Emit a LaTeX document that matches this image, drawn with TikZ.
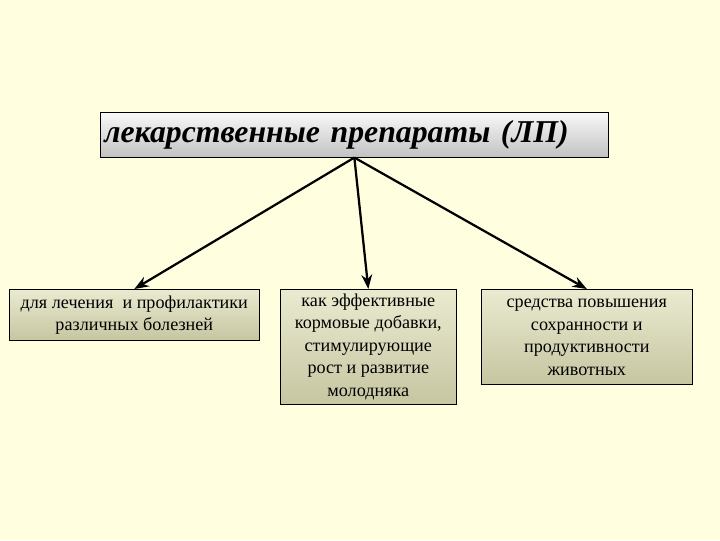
\documentclass[tikz,border=0pt]{standalone}
\usepackage{fontspec}
\setmainfont{Liberation Serif}
\usepackage{tikz}
\usetikzlibrary{arrows.meta, positioning}
\definecolor{paper}{RGB}{255,255,224}
\definecolor{khakitop}{RGB}{234,234,208}
\definecolor{khakibot}{RGB}{198,198,162}
\tikzstyle{titlebox} = [rectangle, draw=black, top color=gray!5, bottom color=gray!48, minimum width=12.7cm, minimum height=1.125cm, text width=12.5cm, align=left, inner sep=2pt, font=\fontsize{22.6}{26}\selectfont\bfseries\itshape]
\tikzstyle{itembox} = [rectangle, draw=black, top color=khakitop, bottom color=khakibot, align=center, inner xsep=2pt, inner ysep=0pt, font=\fontsize{12.9}{16}\selectfont]
\tikzstyle{arrow} = [line width=1.6pt, ->, >=Stealth]
\begin{document}
\begin{tikzpicture}[x=0.025cm, y=-0.025cm]

% Background
\fill [paper] (0,0) rectangle (720,540);

% Nodes
\node (drugs) [titlebox, anchor=north west] at (100,112) {лекарственные препараты (ЛП)};
\node (treat) [itembox, anchor=north west, minimum width=6.25cm, minimum height=1.275cm] at (9,289) {\strut для лечения\ \ и профилактики\\различных болезней\strut};
\node (feed) [itembox, anchor=north west, minimum width=4.4cm, minimum height=2.875cm] at (280,289) {\strut как эффективные\\кормовые добавки,\\стимулирующие\\рост и развитие\\молодняка\strut};
\node (yield) [itembox, anchor=north west, minimum width=5.275cm, minimum height=2.375cm] at (481,289) {\strut средства повышения\\сохранности и\\продуктивности\\животных\strut};

% Arrows
\draw [arrow] (drugs.south) -- (treat.north);
\draw [arrow] (drugs.south) -- (feed.north);
\draw [arrow] (drugs.south) -- (yield.north);

\end{tikzpicture}
\end{document}
